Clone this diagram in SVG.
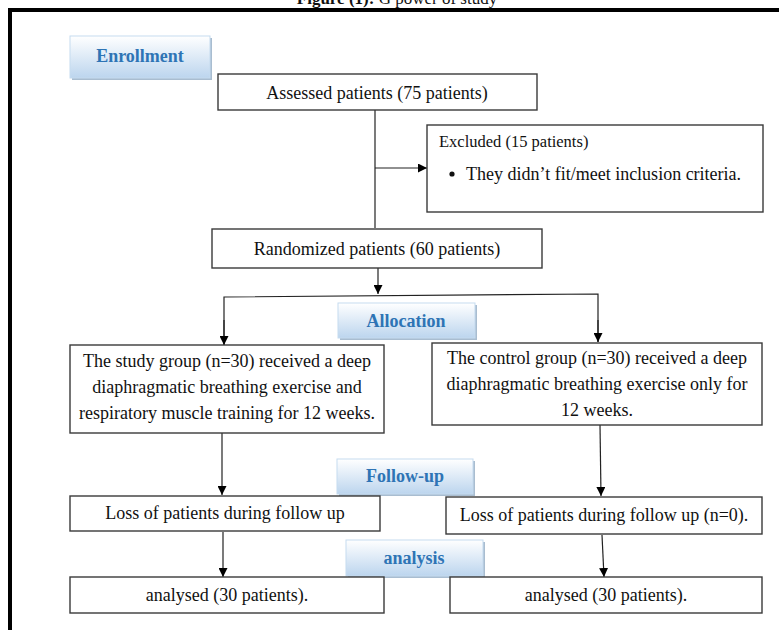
<svg xmlns="http://www.w3.org/2000/svg" width="779" height="630" viewBox="0 0 779 630">
<style>
.box{fill:#fff;stroke:#3a3a3a;stroke-width:1.4}
.t{font-family:"Liberation Serif","Times New Roman",serif;font-size:18px;fill:#111}
.c{text-anchor:middle}
.lab{fill:url(#g);stroke:#c5dbef;stroke-width:1}
.sh{fill:#a9bdd0}
.lt{font-family:"Liberation Serif","Times New Roman",serif;font-size:18px;font-weight:bold;fill:#2e74b5;text-anchor:middle}
.ln{stroke:#222;stroke-width:1.2;fill:none}
</style>
<defs>
<linearGradient id="g" x1="0" y1="0" x2="0" y2="1">
<stop offset="0" stop-color="#ffffff"/>
<stop offset="1" stop-color="#bcd5ee"/>
</linearGradient>
<marker id="a" viewBox="0 0 10 10" refX="10" refY="5" markerWidth="9" markerHeight="9" markerUnits="userSpaceOnUse" orient="auto">
<path d="M0,0 L10,5 L0,10 Z" fill="#000"/>
</marker>
</defs>
<rect width="779" height="630" fill="#fff"/>
<text x="397" y="4" class="t c" style="font-size:17px"><tspan font-weight="bold">Figure (1):</tspan> G power of study</text>
<path d="M10,630 V10 H779" fill="none" stroke="#000" stroke-width="4"/>

<g id="connectors">
<line class="ln" x1="375" y1="110" x2="375" y2="228"/>
<line class="ln" x1="375" y1="168" x2="427" y2="168" marker-end="url(#a)"/>
<line class="ln" x1="378" y1="268" x2="378" y2="294" marker-end="url(#a)"/>
<polyline class="ln" points="224,345 224,297 598,294 598,342"/>
<line class="ln" x1="224" y1="320" x2="224" y2="345" marker-end="url(#a)"/>
<line class="ln" x1="598" y1="320" x2="598" y2="342" marker-end="url(#a)"/>
<line class="ln" x1="222" y1="433" x2="222" y2="495" marker-end="url(#a)"/>
<line class="ln" x1="600" y1="425" x2="601" y2="496" marker-end="url(#a)"/>
<line class="ln" x1="223" y1="532" x2="223" y2="577" marker-end="url(#a)"/>
<line class="ln" x1="602" y1="535" x2="604" y2="577" marker-end="url(#a)"/>
</g>

<g id="enrollment">
<rect class="sh" x="72" y="38" width="140" height="42"/>
<rect class="lab" x="70" y="36" width="140" height="42"/>
<text class="lt" x="140" y="62">Enrollment</text>
</g>

<g id="assessed">
<rect class="box" x="218" y="74" width="319" height="36"/>
<text class="t c" x="377" y="99">Assessed patients (75 patients)</text>
</g>

<g id="excluded">
<rect class="box" x="427" y="125" width="336" height="87"/>
<text class="t" x="439" y="147" style="font-size:16.5px">Excluded (15 patients)</text>
<circle cx="452" cy="174" r="2.6" fill="#111"/>
<text class="t" x="466" y="180">They didn’t fit/meet inclusion criteria.</text>
</g>

<g id="randomized">
<rect class="box" x="212" y="229" width="330" height="39"/>
<text class="t c" x="377" y="255">Randomized patients (60 patients)</text>
</g>

<g id="allocation">
<rect class="sh" x="340" y="305" width="137" height="35"/>
<rect class="lab" x="338" y="303" width="137" height="35"/>
<text class="lt" x="406" y="327">Allocation</text>
</g>

<g id="study">
<rect class="box" x="70" y="345" width="314" height="88"/>
<text class="t c" x="227" y="367">The study group (n=30) received a deep</text>
<text class="t c" x="227" y="393">diaphragmatic breathing exercise and</text>
<text class="t c" x="227" y="419">respiratory muscle training for 12 weeks.</text>
</g>

<g id="control">
<rect class="box" x="432" y="343" width="330" height="82"/>
<text class="t c" x="597" y="364">The control group (n=30) received a deep</text>
<text class="t c" x="597" y="390">diaphragmatic breathing exercise only for</text>
<text class="t c" x="597" y="416">12 weeks.</text>
</g>

<g id="followup">
<rect class="sh" x="339" y="461" width="136" height="35"/>
<rect class="lab" x="337" y="459" width="136" height="35"/>
<text class="lt" x="405" y="482">Follow-up</text>
</g>

<g id="loss-left">
<rect class="box" x="70" y="496" width="310" height="35"/>
<text class="t c" x="225" y="519">Loss of patients during follow up</text>
</g>

<g id="loss-right">
<rect class="box" x="446" y="497" width="316" height="37"/>
<text class="t c" x="604" y="521">Loss of patients during follow up (n=0).</text>
</g>

<g id="analysis">
<rect class="sh" x="348" y="542" width="137" height="36"/>
<rect class="lab" x="346" y="540" width="137" height="36"/>
<text class="lt" x="414" y="564">analysis</text>
</g>

<g id="analysed-left">
<rect class="box" x="70" y="577" width="314" height="36"/>
<text class="t c" x="227" y="601">analysed (30 patients).</text>
</g>

<g id="analysed-right">
<rect class="box" x="450" y="577" width="312" height="36"/>
<text class="t c" x="606" y="601">analysed (30 patients).</text>
</g>
</svg>
